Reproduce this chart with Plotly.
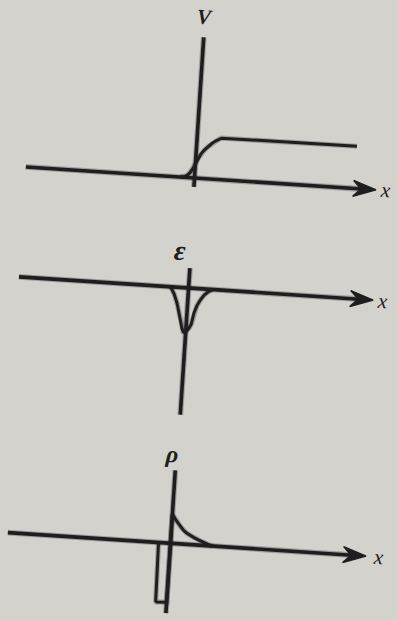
import numpy as np
import plotly.graph_objects as go

# ---- data (x in drawing units along each x axis, value along each vertical axis) ----
# potential V(x)
v_x = [-14, -11, -8, -5, -2, 0.5, 2.5, 5, 8, 11.6, 15, 19, 22, 24.5, 90, 160]
v_val = [0, 0.4, 1.8, 4.8, 9.7, 15.5, 20, 24.5, 28.5, 32.3, 35.5, 38.5, 40.5, 41.5, 42, 42.3]

# field E(x)
e_x = [-18, -14, -10.5, -7.5, -5.5, -4, -2.5, -1, 1, 3, 5, 7, 9.5, 12.5, 16, 20, 24]
e_val = [0, -7, -16, -26, -35, -41, -44, -44.5, -43, -40, -36, -24.5, -17, -11.2, -6, -2.5, 0]

# charge density rho(x)
rho_x = [-12, -11.6, -11, -10, -1, 0, 0, 1.8, 4, 6.5, 9, 11.9, 15, 18.9, 23, 27.5, 32, 37, 42]
rho_val = [0, -55, -58.5, -59.5, -59.5, -59, 29, 27, 23.5, 20.5, 17, 14.1, 11.6, 9.3, 7.2, 5.3, 3.4, 1.6, 0]

# ---- layout constants ----
W, H = 397, 620
PAPER = "#d4d2cd"
INK = "#1e1e1e"
HALO = "rgba(30,30,30,0.28)"
TILT_DEG = 3.75            # whole drawing sits slightly rotated clockwise
TILT = np.deg2rad(TILT_DEG)

panels = [
    dict(series=(v_x, v_val), origin=(194.5, 178.0), xext=(-169, 182), yext=(-9, 141),
         label="<b><i>V</i></b>", label_pos=(0, 161), label_size=21, xlab_pos=191),
    dict(series=(e_x, e_val), origin=(188.6, 288.0), xext=(-170, 185), yext=(-127, 20),
         label="<b><i>ε</i></b>", label_pos=(-11, 37), label_size=28, xlab_pos=194),
    dict(series=(rho_x, rho_val), origin=(170.5, 543.3), xext=(-163, 196), yext=(-70, 73),
         label="<b><i>ρ</i></b>", label_pos=(-5, 89), label_size=24, xlab_pos=208),
]


def tilt(u, v):
    u = np.asarray(u, dtype=float)
    v = np.asarray(v, dtype=float)
    c, s = np.cos(TILT), np.sin(TILT)
    return u * c + v * s, -u * s + v * c


def add_line(fig, u, v, width, xa, ya):
    px, py = tilt(u, v)
    for w, col in ((width + 2.2, HALO), (width, INK)):
        fig.add_trace(go.Scatter(x=px, y=py, mode="lines", xaxis=xa, yaxis=ya,
                                 line=dict(color=col, width=w), hoverinfo="skip",
                                 showlegend=False))


fig = go.Figure()
layout = dict()
ARROW_LEN, ARROW_HALF, NOTCH = 23, 8, 15

for k, p in enumerate(panels, start=1):
    sfx = "" if k == 1 else str(k)
    xa, ya = "x" + sfx, "y" + sfx
    ox, oy = p["origin"]
    layout["xaxis" + sfx] = dict(domain=[0, 1], range=[-ox, W - ox], visible=False,
                                 fixedrange=True, anchor=ya)
    layout["yaxis" + sfx] = dict(domain=[0, 1], range=[-(H - oy), oy], visible=False,
                                 fixedrange=True, anchor=xa)

    # horizontal axis with arrow
    x0, x1 = p["xext"]
    add_line(fig, [x0, x1 - NOTCH + 1], [0, 0], 3.6, xa, ya)
    hx, hy = tilt([x1, x1 - ARROW_LEN, x1 - NOTCH, x1 - ARROW_LEN, x1],
                  [0, ARROW_HALF, 0, -ARROW_HALF, 0])
    fig.add_trace(go.Scatter(x=hx, y=hy, mode="lines", fill="toself", fillcolor=INK,
                             line=dict(color=INK, width=1.5), xaxis=xa, yaxis=ya,
                             hoverinfo="skip", showlegend=False))
    # vertical axis
    y0, y1 = p["yext"]
    add_line(fig, [0, 0], [y0, y1], 3.6, xa, ya)

    # curve
    add_line(fig, p["series"][0], p["series"][1], 3.0, xa, ya)

    # labels
    lx, ly = tilt([p["label_pos"][0]], [p["label_pos"][1]])
    fig.add_annotation(x=float(lx[0]), y=float(ly[0]), xref=xa, yref=ya, text=p["label"],
                       showarrow=False, textangle=TILT_DEG,
                       font=dict(family="Liberation Serif", size=p["label_size"], color=INK))
    tx, ty = tilt([p["xlab_pos"]], [0])
    fig.add_annotation(x=float(tx[0]), y=float(ty[0]), xref=xa, yref=ya, text="<i>x</i>",
                       showarrow=False, textangle=TILT_DEG,
                       font=dict(family="Liberation Serif", size=21, color=INK))

fig.update_layout(width=W, height=H, margin=dict(l=0, r=0, t=0, b=0),
                  paper_bgcolor=PAPER, plot_bgcolor="rgba(0,0,0,0)", showlegend=False,
                  **layout)

fig.write_html("out.html", config=dict(displayModeBar=False))
